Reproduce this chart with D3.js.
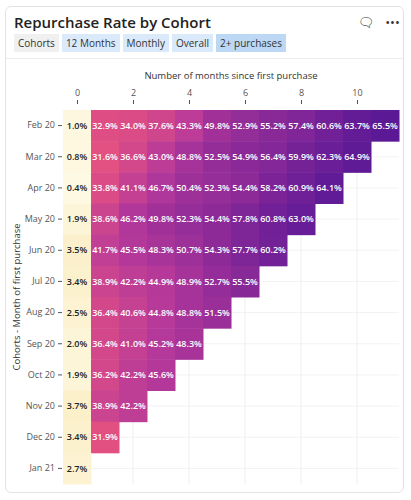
<!DOCTYPE html>
<html><head><meta charset="utf-8">
<script src="https://cdn.jsdelivr.net/npm/d3@7"></script>
<style>
body{margin:0;font-family:"Open Sans",sans-serif;background:#fff}
.card{position:absolute;left:5px;top:6px;width:399px;height:487px;border:1px solid #e3e3e3;border-radius:6px;box-sizing:border-box}
.title{position:absolute;left:14px;top:12px;font-size:15px;font-weight:600;color:#222}
.tags{position:absolute;left:14px;top:36px;font-size:10px;color:#333}
.tags span{padding:2px 4px;margin-right:3px;background:#dbeafb}
.tags span.g{background:#f0f0f0}
.tags span.d{background:#bcd8f5}
.sep{position:absolute;left:6px;top:58px;width:397px;border-top:1px solid #ececec}
.icons{position:absolute;left:358px;top:13px;font-size:13px;color:#333}
svg{position:absolute;left:0;top:0}
</style></head><body>
<div class="card"></div>
<div class="title">Repurchase Rate by Cohort</div>
<div class="tags"><span class="g">Cohorts</span><span>12 Months</span><span>Monthly</span><span>Overall</span><span class="d">2+ purchases</span></div>
<div class="sep"></div>
<div class="icons">&#128488;&nbsp;&nbsp;&nbsp;&bull;&bull;&bull;</div>
<div id="chart"></div>
<script>
const cohorts = ["Feb 20","Mar 20","Apr 20","May 20","Jun 20","Jul 20","Aug 20","Sep 20","Oct 20","Nov 20","Dec 20","Jan 21"];
const months = d3.range(12);
const monthTicks = [0,2,4,6,8,10];
const rates = [
  [1.0,32.9,34.0,37.6,43.3,49.8,52.9,55.2,57.4,60.6,63.7,65.5],
  [0.8,31.6,36.6,43.0,48.8,52.5,54.9,56.4,59.9,62.3,64.9],
  [0.4,33.8,41.1,46.7,50.4,52.3,54.4,58.2,60.9,64.1],
  [1.9,38.6,46.2,49.8,52.3,54.4,57.8,60.8,63.0],
  [3.5,41.7,45.5,48.3,50.7,54.3,57.7,60.2],
  [3.4,38.9,42.2,44.9,48.9,52.7,55.5],
  [2.5,36.4,40.6,44.8,48.8,51.5],
  [2.0,36.4,41.0,45.2,48.3],
  [1.9,36.2,42.2,45.6],
  [3.7,38.9,42.2],
  [3.4,31.9],
  [2.7]
];

const W=411,H=500, pLeft=63, pRight=399, pTop=110, pBottom=484;
const svg=d3.select("#chart").append("svg").attr("width",W).attr("height",H);

const x=d3.scaleBand().domain(months).range([pLeft,pRight]);
const y=d3.scaleBand().domain(cohorts).range([pTop,pBottom]);
const color=d3.scaleLinear().domain([0,4,30,45,66])
  .range(["#fefae6","#fcefc8","#e8537f","#b6399a","#5a1896"]);

// grid
svg.append("g").selectAll("line").data(monthTicks).join("line")
  .attr("x1",d=>x(d)+x.bandwidth()/2).attr("x2",d=>x(d)+x.bandwidth()/2)
  .attr("y1",pTop).attr("y2",pBottom).attr("stroke","#eee");
svg.append("g").selectAll("line").data(cohorts).join("line")
  .attr("x1",pLeft).attr("x2",pRight)
  .attr("y1",d=>y(d)+y.bandwidth()/2).attr("y2",d=>y(d)+y.bandwidth()/2).attr("stroke","#f2f2f2");

const cells=[];
rates.forEach((r,i)=>r.forEach((v,j)=>cells.push({c:cohorts[i],m:j,v})));
svg.append("g").selectAll("rect").data(cells).join("rect")
  .attr("x",d=>x(d.m)).attr("y",d=>y(d.c))
  .attr("width",x.bandwidth()+0.5).attr("height",y.bandwidth()+0.5)
  .attr("fill",d=>color(d.v));
svg.append("g").selectAll("text").data(cells).join("text")
  .attr("x",d=>x(d.m)+x.bandwidth()/2).attr("y",d=>y(d.c)+y.bandwidth()/2)
  .attr("dy","0.35em").attr("text-anchor","middle")
  .attr("font-size",9).attr("font-weight",600).attr("font-family","Open Sans")
  .attr("fill",d=>d.v<10?"#222":"#fff").text(d=>d.v.toFixed(1)+"%");

const xAxis=d3.axisTop(d3.scaleLinear().domain([0,11]).range([x(0)+x.bandwidth()/2,x(11)+x.bandwidth()/2]))
  .tickValues(monthTicks).tickSize(4).tickPadding(4);
const gx=svg.append("g").attr("transform",`translate(0,${pTop-6})`).call(xAxis);
const yAxis=d3.axisLeft(y).tickSize(4).tickPadding(3);
const gy=svg.append("g").attr("transform",`translate(${pLeft-1},0)`).call(yAxis);
[gx,gy].forEach(g=>{
  g.select(".domain").remove();
  g.selectAll(".tick line").attr("stroke","#555");
  g.selectAll("text").attr("font-size",9).attr("fill","#555").attr("font-family","Open Sans");
});

svg.append("text").attr("x",231).attr("y",79).attr("text-anchor","middle")
  .attr("font-size",9.5).attr("fill","#333").attr("font-family","Open Sans")
  .text("Number of months since first purchase");
svg.append("text").attr("transform","translate(20,297) rotate(-90)").attr("text-anchor","middle")
  .attr("font-size",9.5).attr("fill","#333").attr("font-family","Open Sans")
  .text("Cohorts - Month of first purchase");
</script></body></html>
